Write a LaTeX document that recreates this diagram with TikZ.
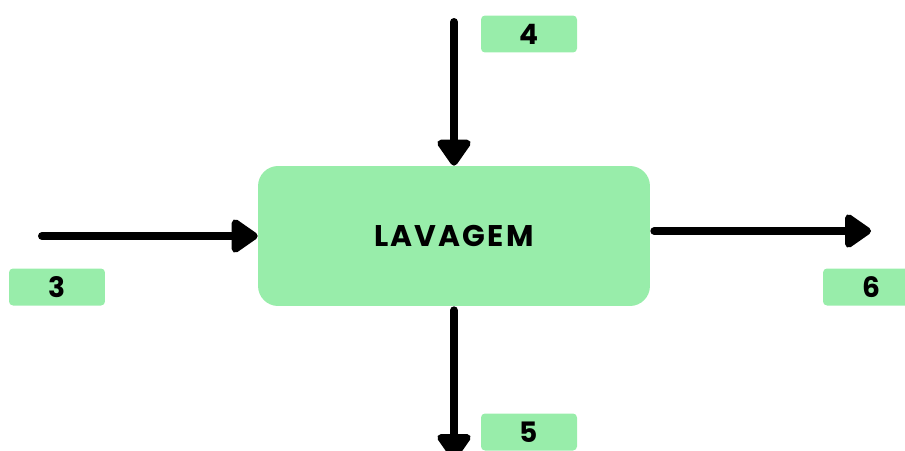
\documentclass[tikz,border=0pt]{standalone}
\usepackage{fontspec}
\setmainfont{Poppins}
\newfontfamily\etapafont[LetterSpace=7]{Poppins}
\usetikzlibrary{arrows.meta}
\definecolor{verdeclaro}{HTML}{98EDAA}

\begin{document}
\begin{tikzpicture}[x=0.02cm, y=-0.02cm,
    etapa/.style={fill=verdeclaro, rounded corners=0.4cm, minimum width=7.84cm, minimum height=2.8cm, inner sep=0pt},
    fluxo/.style={fill=verdeclaro, rounded corners=0.08cm, minimum width=1.92cm, minimum height=0.74cm, inner sep=0pt, font=\bfseries\fontsize{16}{18}\selectfont},
    seta/.style={line width=0.16cm, line cap=round, -{Triangle[width=0.76cm, length=0.58cm, round]}}]
    \useasboundingbox (0,0) rectangle (905,450);
    \clip (0,0) rectangle (905,450);

    \node[etapa] (lavagem) at (454,236) {\etapafont\bfseries\fontsize{17}{20}\selectfont LAVAGEM};

    \node[fluxo] (f4) at (529,34) {4};
    \node[fluxo] (f3) at (57,287) {3};
    \node[fluxo] (f6) at (871,287) {6};
    \node[fluxo] (f5) at (529,432) {5};

    \coordinate (ini4) at (454,22);
    \coordinate (ini3) at (42,236);
    \coordinate (fim6) at (871,231);
    \coordinate (fim5) at (454,460);

    \draw[seta] (ini4) -- (lavagem.north);
    \draw[seta] (ini3) -- (lavagem.west);
    \draw[seta] (lavagem.east |- fim6) ++(4,0) -- (fim6);
    \draw[seta] (lavagem.south) ++(0,4) -- (fim5);

\end{tikzpicture}
\end{document}
